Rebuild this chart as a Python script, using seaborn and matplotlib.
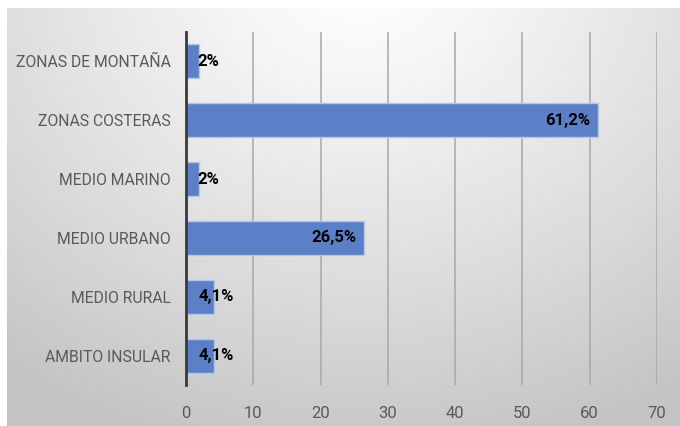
import numpy as np
import pandas as pd
import matplotlib
matplotlib.use("Agg")
import matplotlib.pyplot as plt
import seaborn as sns

categories = ["ZONAS DE MONTAÑA", "ZONAS COSTERAS", "MEDIO MARINO",
              "MEDIO URBANO", "MEDIO RURAL", "AMBITO INSULAR"]
values = [2.0, 61.2, 2.0, 26.5, 4.1, 4.1]
value_labels = ["2%", "61,2%", "2%", "26,5%", "4,1%", "4,1%"]
x_ticks = [0, 10, 20, 30, 40, 50, 60, 70]

sns.set_theme(style="white")
plt.rcParams["font.family"] = ["Roboto", "DejaVu Sans"]

W, H = 680, 426
fig = plt.figure(figsize=(W / 100, H / 100), dpi=100)
fig.patch.set_facecolor("white")

# radial grey gradient behind the chart
bg = fig.add_axes([7 / W, 0, 1 - 7 / W, 1 - 8 / H])
bg.set_axis_off()
gx, gy = np.meshgrid(np.linspace(7, W, 400), np.linspace(8, H, 300))
d = np.sqrt(((gx - 360) / 1.0) ** 2 + ((gy + 30) / 0.85) ** 2)
shade = 1.0 - 0.23 * np.clip(d / 580, 0, 1) ** 1.2
bg.imshow(np.dstack([shade] * 3), aspect="auto", extent=[0, 1, 0, 1],
          interpolation="bilinear")

ax = fig.add_axes([186 / W, 1 - 385 / H, (657 - 186) / W, (385 - 32) / H])
ax.set_facecolor("none")

df = pd.DataFrame({"cat": categories, "val": values})
sns.barplot(data=df, x="val", y="cat", orient="h", ax=ax, color="#5b80c8",
            saturation=1, width=0.58, edgecolor="#b4c7ea", linewidth=1.0,
            zorder=3)

ax.set_xlim(0, 70)
ax.set_ylim(len(categories) - 0.5, -0.5)
ax.set_xticks(x_ticks)
ax.set_xlabel("")
ax.set_ylabel("")
ax.grid(axis="x", color="#a8a8a8", linewidth=1.1, zorder=0)
ax.grid(axis="y", visible=False)
for s in ["top", "right", "bottom"]:
    ax.spines[s].set_visible(False)
ax.spines["left"].set_color("#3a3a3a")
ax.spines["left"].set_linewidth(2)
ax.spines["left"].set_zorder(4)
ax.tick_params(axis="both", length=0, labelcolor="#595959")
ax.tick_params(axis="x", pad=15, labelsize=12)
ax.tick_params(axis="y", pad=11, labelsize=11.3)

for i, (v, lab) in enumerate(zip(values, value_labels)):
    off = 20 if v < 10 else -8
    ax.annotate(lab, (v, i), xytext=(off * 0.72, 0), textcoords="offset points",
                ha="right", va="center", fontsize=12, fontweight="bold",
                color="black", zorder=5)

fig.savefig("out.png", dpi=100)
